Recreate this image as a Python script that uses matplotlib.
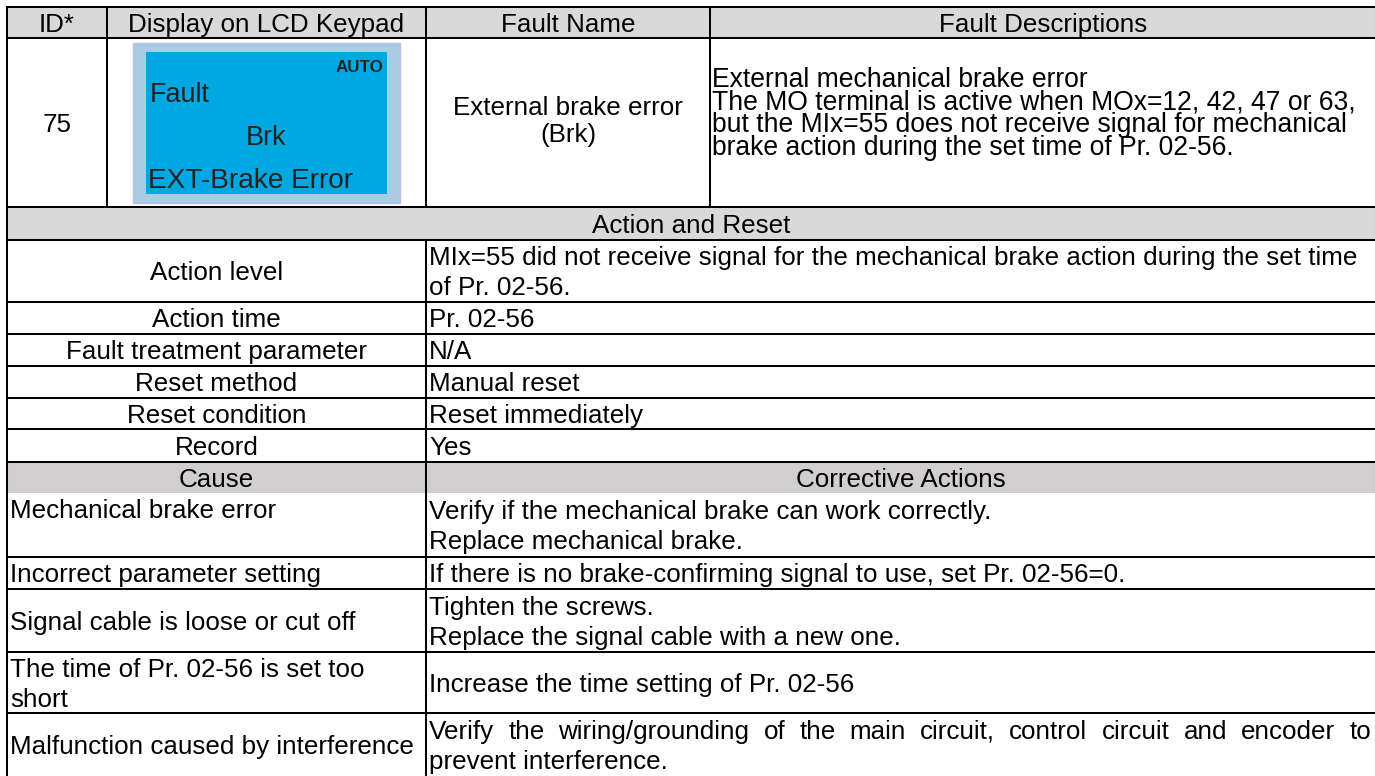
import matplotlib
matplotlib.use("Agg")
import matplotlib.pyplot as plt
from matplotlib.patches import Rectangle

# ---------------- data (text content) ----------------
header = ["ID*", "Display on LCD Keypad", "Fault Name", "Fault Descriptions"]
fault_id = "75"
lcd_auto = "AUTO"
lcd_lines = ["Fault", "Brk", "EXT-Brake Error"]
fault_name = ["External brake error", "(Brk)"]
fault_desc = [
    "External mechanical brake error",
    "The MO terminal is active when MOx=12, 42, 47 or 63,",
    "but the MIx=55 does not receive signal for mechanical",
    "brake action during the set time of Pr. 02-56.",
]
section_title = "Action and Reset"
action_items = ["Action level", "Action time", "Fault treatment parameter",
                "Reset method", "Reset condition", "Record"]
action_values = [
    ["MIx=55 did not receive signal for the mechanical brake action during the set time",
     "of Pr. 02-56."],
    ["Pr. 02-56"],
    ["N/A"],
    ["Manual reset"],
    ["Reset immediately"],
    ["Yes"],
]
cause_header = ["Cause", "Corrective Actions"]
causes = [
    ["Mechanical brake error"],
    ["Incorrect parameter setting"],
    ["Signal cable is loose or cut off"],
    ["The time of Pr. 02-56 is set too", "short"],
    ["Malfunction caused by interference"],
]
cause_valign = ["top", "center", "center", "center", "center"]
corrective = [
    ["Verify if the mechanical brake can work correctly.", "Replace mechanical brake."],
    ["If there is no brake-confirming signal to use, set Pr. 02-56=0."],
    ["Tighten the screws.", "Replace the signal cable with a new one."],
    ["Increase the time setting of Pr. 02-56"],
    ["Verify the wiring/grounding of the main circuit, control circuit and encoder to",
     "prevent interference."],
]
corrective_justify = [False, False, False, False, True]

# ---------------- layout ----------------
W, H = 1375, 776
FONT = "Liberation Sans"
PX = 26                 # font size in pixels
LH = 30                 # line height in px
LW = 1.45
GRAY1 = "#d9d9d9"
GRAY2 = "#d0cece"

X_L, X_ID, X_LCD, X_NAME, X_R = 7, 107, 426, 710, 1376
Y_TOP, Y_HDR, Y_ROW1, Y_SEC = 7, 38, 207, 240
Y_ACT = [240, 302, 334, 366, 398, 429, 462]
Y_CH = 493
Y_CAUSE = [493, 557, 589, 652, 713, 776]

fig = plt.figure(figsize=(W / 100, H / 100), dpi=100)
ax = fig.add_axes([0, 0, 1, 1])
ax.set_xlim(0, W)
ax.set_ylim(H, 0)
ax.axis("off")
renderer = fig.canvas.get_renderer()


def baseline(yc, px=PX):
    return yc + 0.716 * px / 2


def put_lines(lines, x, yc, ha="center", px=PX, lh=LH, **kw):
    n = len(lines)
    for i, s in enumerate(lines):
        y = yc + (i - (n - 1) / 2) * lh
        ax.text(x, baseline(y, px), s, ha=ha, va="baseline", fontsize=px * 0.72,
                family=FONT, color="black", **kw)


def put_justified(s, x0, x1, yc, px=PX):
    words = s.split(" ")
    objs = [ax.text(0, baseline(yc, px), w, ha="left", va="baseline",
                    fontsize=px * 0.72, family=FONT, color="black") for w in words]
    widths = [o.get_window_extent(renderer).width for o in objs]
    gap = (x1 - x0 - sum(widths)) / (len(words) - 1)
    x = x0
    for o, w in zip(objs, widths):
        o.set_x(x)
        x += w + gap


def hline(y, x0=X_L, x1=X_R):
    ax.plot([x0, x1], [y, y], color="black", lw=LW, solid_capstyle="projecting")


def vline(x, y0, y1):
    ax.plot([x, x], [y0, y1], color="black", lw=LW, solid_capstyle="projecting")


# gray bands
for (y0, y1, c) in [(Y_TOP, Y_HDR, GRAY1), (Y_ROW1, Y_SEC, GRAY1), (Y_ACT[-1], Y_CH, GRAY2)]:
    ax.add_patch(Rectangle((X_L, y0), X_R - X_L, y1 - y0, facecolor=c, edgecolor="none"))

# header
hx = [X_L, X_ID, X_LCD, X_NAME, X_R]
for i, h in enumerate(header):
    put_lines([h], (hx[i] + hx[i + 1]) / 2, (Y_TOP + Y_HDR) / 2)

# row 1
yc1 = (Y_HDR + Y_ROW1) / 2
put_lines([fault_id], (X_L + X_ID) / 2, yc1)
put_lines(fault_name, (X_LCD + X_NAME) / 2, yc1 - 3, lh=27)
put_lines(fault_desc, X_NAME + 2, yc1 - 11, ha="left", px=26.5, lh=22.5)

# LCD display
ax.add_patch(Rectangle((133, 43), 267, 160, facecolor="#a8cce3", edgecolor="#b8bfe8", lw=1))
ax.add_patch(Rectangle((146, 52), 241, 142, facecolor="#00a8e1", edgecolor="none"))
ax.text(383, baseline(66, 17), lcd_auto, ha="right", va="baseline", fontsize=17 * 0.72,
        family=FONT, weight="bold", color="#222222")
ax.text(150, baseline(92, 27), lcd_lines[0], ha="left", va="baseline", fontsize=27 * 0.72,
        family=FONT, color="#222222")
ax.text(266, baseline(135, 27), lcd_lines[1], ha="center", va="baseline", fontsize=27 * 0.72,
        family=FONT, color="#222222")
ax.text(148, baseline(178, 28), lcd_lines[2], ha="left", va="baseline", fontsize=28 * 0.72,
        family=FONT, color="#222222")

# section title
put_lines([section_title], (X_L + X_R) / 2, (Y_ROW1 + Y_SEC) / 2)

# action rows
for i, (item, val) in enumerate(zip(action_items, action_values)):
    y0, y1 = Y_ACT[i], Y_ACT[i + 1]
    yc = (y0 + y1) / 2
    put_lines([item], (X_L + X_LCD) / 2, yc)
    put_lines(val, X_LCD + 3, yc, ha="left")

# cause header
put_lines([cause_header[0]], (X_L + X_LCD) / 2, (Y_ACT[-1] + Y_CH) / 2)
put_lines([cause_header[1]], (X_LCD + X_R) / 2, (Y_ACT[-1] + Y_CH) / 2)

# cause rows
for i, (c, a) in enumerate(zip(causes, corrective)):
    y0, y1 = Y_CAUSE[i], Y_CAUSE[i + 1]
    yc = (y0 + y1) / 2
    if cause_valign[i] == "top":
        put_lines(c, X_L + 3, y0 + 15.5, ha="left")
    else:
        put_lines(c, X_L + 3, yc, ha="left")
    n = len(a)
    for k, s in enumerate(a):
        yk = yc + (k - (n - 1) / 2) * LH
        if corrective_justify[i] and k < n - 1:
            put_justified(s, X_LCD + 3, X_R - 5, yk)
        else:
            put_lines([s], X_LCD + 3, yk, ha="left")

# grid lines
for y in [Y_TOP, Y_HDR, Y_ROW1, Y_SEC] + Y_ACT[1:] + Y_CAUSE[1:-1]:
    hline(y)
vline(X_L, Y_TOP, H + 5)
vline(X_ID, Y_TOP, Y_ROW1)
vline(X_LCD, Y_TOP, Y_ROW1)
vline(X_NAME, Y_TOP, Y_ROW1)
vline(X_LCD, Y_SEC, H + 5)
vline(X_R, Y_TOP, H + 5)

fig.savefig("out.png", dpi=100, facecolor="white")
